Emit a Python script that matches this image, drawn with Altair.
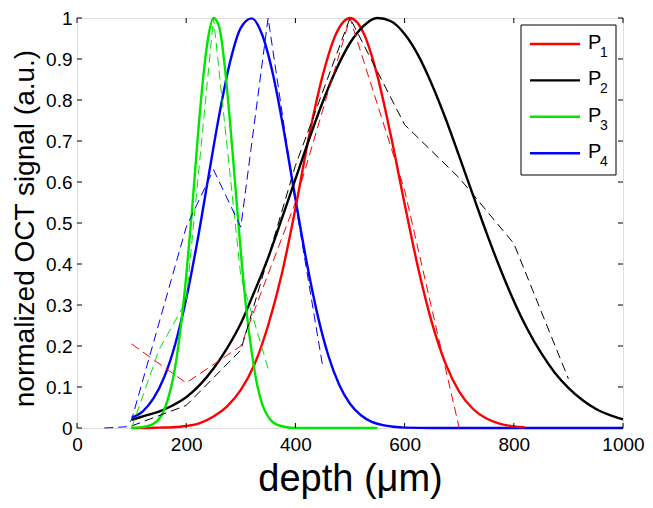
import altair as alt
import pandas as pd

# ---------------- data ----------------
series_names = ["P1", "P2", "P3", "P4"]
series_colors = ["#ff0000", "#000000", "#00e600", "#0000ff"]

# solid (fitted) curves
p1_x = [100, 125, 150, 175, 200, 225, 250, 275, 300, 325, 350, 375, 400, 425, 450, 475, 500,
        525, 550, 575, 600, 625, 650, 675, 700, 725, 750, 775, 800, 820]
p1_y = [0.0, 0.0, 0.001, 0.002, 0.005, 0.012, 0.028, 0.053, 0.093, 0.155, 0.25, 0.375, 0.535,
        0.712, 0.86, 0.963, 1.0, 0.963, 0.86, 0.712, 0.547, 0.389, 0.257, 0.157, 0.089, 0.047,
        0.023, 0.010, 0.004, 0.002]

p2_x = [100, 125, 150, 175, 200, 225, 250, 275, 300, 325, 350, 375, 400, 425, 450, 475, 500,
        525, 550, 575, 600, 625, 650, 675, 700, 725, 750, 775, 800, 825, 850, 875, 900, 925,
        950, 975, 1000]
p2_y = [0.02, 0.03, 0.04, 0.055, 0.075, 0.105, 0.145, 0.195, 0.255, 0.333, 0.415, 0.51, 0.607,
        0.704, 0.795, 0.875, 0.939, 0.981, 1.0, 0.992, 0.961, 0.909, 0.838, 0.755, 0.663, 0.569,
        0.476, 0.389, 0.31, 0.241, 0.183, 0.135, 0.098, 0.069, 0.047, 0.032, 0.021]

p3_x = [100, 120, 140, 160, 180, 200, 210, 220, 230, 240, 250, 260, 270, 280, 290, 300, 310,
        320, 330, 340, 350, 360, 380, 400, 550]
p3_y = [0.0, 0.002, 0.01, 0.045, 0.15, 0.37, 0.52, 0.69, 0.84, 0.95, 1.0, 0.98, 0.89, 0.75,
        0.59, 0.43, 0.29, 0.185, 0.105, 0.055, 0.028, 0.013, 0.003, 0.0, 0.0]

p4_x = [100, 120, 140, 160, 180, 200, 220, 240, 260, 280, 300, 320, 340, 360, 380, 400, 420,
        440, 460, 480, 500, 520, 540, 560, 580, 600, 650, 1000]
p4_y = [0.025, 0.04, 0.072, 0.125, 0.205, 0.315, 0.452, 0.607, 0.76, 0.891, 0.976, 0.999,
        0.956, 0.856, 0.716, 0.559, 0.409, 0.279, 0.178, 0.106, 0.059, 0.031, 0.015, 0.007,
        0.003, 0.001, 0.0, 0.0]

# dashed (measured) profiles
p1d_x = [100, 200, 300, 400, 500, 600, 700]
p1d_y = [0.205, 0.11, 0.2, 0.55, 1.0, 0.58, 0.0]

p2d_x = [100, 200, 300, 400, 500, 600, 700, 800, 900]
p2d_y = [0.005, 0.055, 0.19, 0.64, 1.0, 0.74, 0.61, 0.45, 0.12]

p3d_x = [100, 150, 200, 250, 300, 350]
p3d_y = [0.0, 0.19, 0.31, 1.0, 0.37, 0.145]

p4d_x = [50, 90, 100, 200, 250, 300, 350, 400, 450]
p4d_y = [0.0, 0.003, 0.02, 0.49, 0.63, 0.49, 1.0, 0.55, 0.15]

x_ticks = [0, 200, 400, 600, 800, 1000]
y_ticks = [0, 0.1, 0.2, 0.3, 0.4, 0.5, 0.6, 0.7, 0.8, 0.9, 1]

# ---------------- chart ----------------
W, H = 546, 410
FONT = "Liberation Sans"

xscale = alt.Scale(domain=[0, 1000], nice=False, zero=False)
yscale = alt.Scale(domain=[0, 1], nice=False, zero=False)

xaxis = alt.Axis(title="depth (μm)", values=x_ticks, format="d", grid=False, ticks=False,
                 domain=False, labelFont=FONT, labelFontSize=19, labelColor="black",
                 labelPadding=7, titleFont=FONT, titleFontSize=38, titleFontWeight="normal",
                 titleColor="black", titlePadding=6, labelFlush=False)
yaxis = alt.Axis(title="normalized OCT signal (a.u.)", values=y_ticks, format="~g", grid=False,
                 ticks=False, domain=False, labelFont=FONT, labelFontSize=19, labelColor="black",
                 labelPadding=5, titleFont=FONT, titleFontSize=28, titleFontWeight="normal",
                 titleColor="black", titlePadding=6, titleY=210, labelFlush=False)

X = alt.X("depth:Q", scale=xscale, axis=xaxis)
Y = alt.Y("signal:Q", scale=yscale, axis=yaxis)


def df_of(xs, ys):
    return pd.DataFrame({"depth": xs, "signal": ys})


def solid(xs, ys, color):
    return alt.Chart(df_of(xs, ys)).mark_line(
        color=color, strokeWidth=2.4, interpolate="monotone", clip=False
    ).encode(x=X, y=Y)


def dashed(xs, ys, color):
    return alt.Chart(df_of(xs, ys)).mark_line(
        color=color, strokeWidth=1, strokeDash=[9, 5], clip=False
    ).encode(x=X, y=Y)


layers = [
    solid(p4_x, p4_y, series_colors[3]),
    solid(p1_x, p1_y, series_colors[0]),
    solid(p2_x, p2_y, series_colors[1]),
    solid(p3_x, p3_y, series_colors[2]),
    dashed(p1d_x, p1d_y, series_colors[0]),
    dashed(p2d_x, p2d_y, series_colors[1]),
    dashed(p3d_x, p3d_y, series_colors[2]),
    dashed(p4d_x, p4d_y, series_colors[3]),
]

# inward ticks on all four sides
xt = pd.DataFrame({"depth": x_ticks})
yt = pd.DataFrame({"signal": y_ticks})
tick_len = 5
layers += [
    alt.Chart(xt).mark_rule(color="black", strokeWidth=1).encode(
        x=X, y=alt.value(H), y2=alt.value(H - tick_len)),
    alt.Chart(xt).mark_rule(color="black", strokeWidth=1).encode(
        x=X, y=alt.value(0), y2=alt.value(tick_len)),
    alt.Chart(yt).mark_rule(color="black", strokeWidth=1).encode(
        y=Y, x=alt.value(0), x2=alt.value(tick_len)),
    alt.Chart(yt).mark_rule(color="black", strokeWidth=1).encode(
        y=Y, x=alt.value(W), x2=alt.value(W - tick_len)),
]

# legend (MATLAB style box with subscripts)
leg = pd.DataFrame({"idx": [0, 1, 2, 3], "sub": ["1", "2", "3", "4"], "color": series_colors})
leg_base = alt.Chart(leg).transform_calculate(
    ly=f"1 - (26 + 36.4 * datum.idx) / {H}",
    lyp=f"1 - (25 + 36.4 * datum.idx) / {H}",
    lys=f"1 - (35 + 36.4 * datum.idx) / {H}",
)
layers += [
    alt.Chart(pd.DataFrame({"a": [0]})).mark_rect(
        fill="white", stroke="black", strokeWidth=1
    ).encode(x=alt.value(444), x2=alt.value(539), y=alt.value(7), y2=alt.value(157)),
    leg_base.mark_rule(strokeWidth=2.4).encode(
        x=alt.value(453), x2=alt.value(503),
        y=alt.Y("ly:Q", scale=yscale, axis=yaxis),
        color=alt.Color("color:N", scale=None, legend=None)),
    leg_base.mark_text(align="left", baseline="middle", font=FONT, fontSize=20,
                       color="black", text="P").encode(
        x=alt.value(511), y=alt.Y("lyp:Q", scale=yscale, axis=yaxis)),
    leg_base.mark_text(align="left", baseline="middle", font=FONT, fontSize=14,
                       color="black").encode(
        x=alt.value(523), y=alt.Y("lys:Q", scale=yscale, axis=yaxis), text="sub:N"),
]

chart = alt.layer(*layers).properties(
    width=W, height=H,
    autosize=alt.AutoSizeParams(type="none"),
    padding={"left": 69, "top": 10, "right": 22, "bottom": 72},
).configure_view(stroke="black", strokeWidth=1).configure(background="white")

chart.save("out.html", embed_options={"renderer": "svg", "actions": False})
